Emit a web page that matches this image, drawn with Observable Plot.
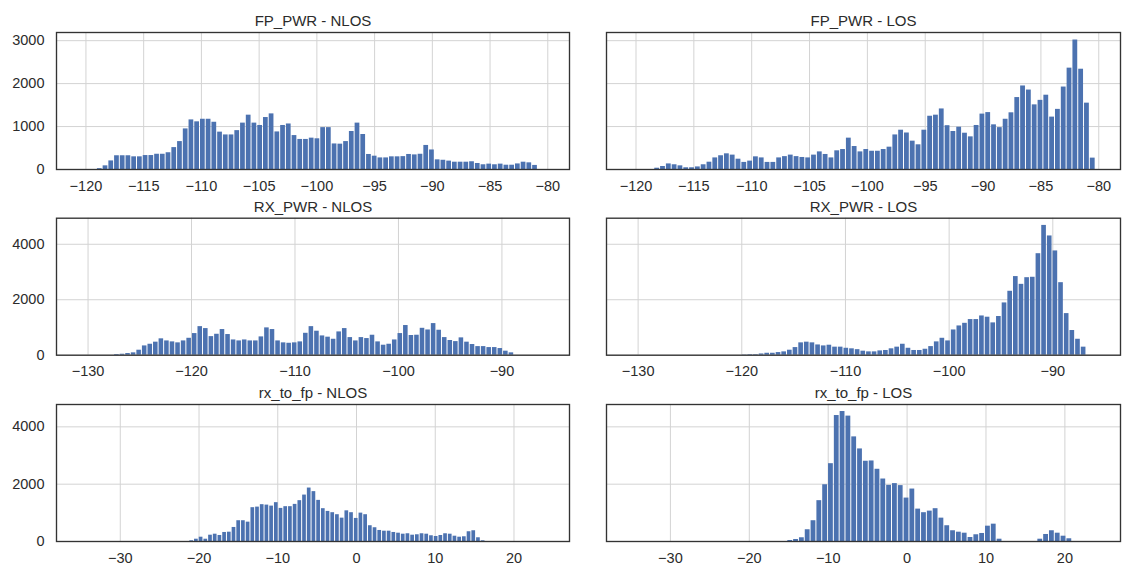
<!DOCTYPE html>
<html><head><meta charset="utf-8">
<script src="https://cdn.jsdelivr.net/npm/d3@7"></script>
<script src="https://cdn.jsdelivr.net/npm/@observablehq/plot@0.6"></script>
<style>
html,body{margin:0;padding:0;background:#fff;}
#chart{position:relative;width:1124px;height:572px;overflow:hidden;background:#fff;}
#chart svg{position:absolute;}
</style></head><body><div id="chart"></div>
<script>
// ---- data: histogram counts (bin start, bin width, counts) ----
const titles = ["FP_PWR - NLOS", "FP_PWR - LOS", "RX_PWR - NLOS", "RX_PWR - LOS", "rx_to_fp - NLOS", "rx_to_fp - LOS"];

const fpPwrNlosStart = -119.05, fpPwrNlosWidth = 0.496;
const fpPwrNlos = [20,85,200,320,320,320,295,295,325,325,355,355,390,510,650,945,1155,1110,1170,1170,1100,870,805,805,905,1080,1265,1080,1025,1210,1295,875,1025,1060,790,700,700,730,715,975,975,595,590,650,885,1080,815,350,310,270,270,295,295,300,350,340,355,560,455,225,215,195,170,170,170,180,140,110,125,110,125,100,100,130,170,155,95];

const fpPwrLosStart = -118.42, fpPwrLosWidth = 0.502;
const fpPwrLos = [30,70,130,110,85,40,40,60,110,170,270,320,365,335,240,165,195,295,270,165,165,270,300,335,300,280,270,335,410,350,270,435,465,730,535,410,465,425,425,465,520,805,915,850,660,575,915,1240,1265,1410,1020,885,985,845,760,1025,1290,1325,1040,975,1170,1320,1675,1945,1850,1505,1610,1730,1220,1400,1920,2360,3015,2335,1545,265];

const rxPwrNlosStart = -127.48, rxPwrNlosWidth = 0.537;
const rxPwrNlos = [25,35,60,85,180,335,395,470,590,515,480,445,515,610,780,1030,960,670,755,925,745,550,515,550,515,515,660,985,925,515,445,430,445,480,790,1030,865,695,650,575,840,960,635,515,635,600,720,480,360,395,550,780,1070,710,720,970,910,1140,900,635,530,490,625,470,385,310,310,275,275,240,145,85];

const rxPwrLosStart = -120.0, rxPwrLosWidth = 0.545;
const rxPwrLos = [10,20,20,45,70,70,95,120,180,275,445,470,445,370,335,360,290,290,250,230,200,145,120,120,155,170,230,290,395,250,170,170,215,310,480,610,515,910,1055,1150,1285,1285,1415,1370,1165,1395,1885,2305,2835,2555,2795,2810,3660,4680,4300,3760,2615,1500,890,575,290];

const rxToFpNlosStart = -21.23, rxToFpNlosWidth = 0.597;
const rxToFpNlos = [25,80,150,80,220,255,210,315,325,490,725,725,675,1180,1200,1285,1270,1235,1355,1155,1215,1215,1295,1425,1620,1865,1740,1435,1145,1050,1005,935,815,1070,1005,805,990,935,550,480,385,360,360,315,290,255,270,220,235,270,255,200,175,210,270,255,185,150,165,340,375,130,25];

const rxToFpLosStart = -15.18, rxToFpLosWidth = 0.737;
const rxToFpLos = [35,70,130,410,725,1425,1980,2715,4395,4535,4375,3650,3230,2800,2810,2520,2180,1960,2020,1950,1515,1830,1130,1005,1060,1145,815,550,375,325,290,140,235,280,535,605,80,0,0,0,0,0,0,80,245,375,290,185,95];

// axis domains and ticks per row (shared across the row)
const row1XDomain = [-122.55, -78.12], row1XTicks = [-120,-115,-110,-105,-100,-95,-90,-85,-80];
const row2XDomain = [-133.05, -83.47], row2XTicks = [-130,-120,-110,-100,-90];
const row3XDomain = [-38.1, 27.05],   row3XTicks = [-30,-20,-10,0,10,20];
const row1YMax = 3190, row1YTicks = [0,1000,2000,3000];
const row2YMax = 4940, row2YTicks = [0,2000,4000];
const row3YMax = 4780, row3YTicks = [0,2000,4000];

// ---- build ----
const series = [
  [fpPwrNlos, fpPwrNlosStart, fpPwrNlosWidth],
  [fpPwrLos, fpPwrLosStart, fpPwrLosWidth],
  [rxPwrNlos, rxPwrNlosStart, rxPwrNlosWidth],
  [rxPwrLos, rxPwrLosStart, rxPwrLosWidth],
  [rxToFpNlos, rxToFpNlosStart, rxToFpNlosWidth],
  [rxToFpLos, rxToFpLosStart, rxToFpLosWidth]
];
const rows = [
  {xDomain: row1XDomain, xTicks: row1XTicks, yMax: row1YMax, yTicks: row1YTicks, top: 0,   height: 200, marginTop: 32},
  {xDomain: row2XDomain, xTicks: row2XTicks, yMax: row2YMax, yTicks: row2YTicks, top: 200, height: 186, marginTop: 17.7},
  {xDomain: row3XDomain, xTicks: row3XTicks, yMax: row3YMax, yTicks: row3YTicks, top: 386, height: 186, marginTop: 18}
];
const cols = [
  {left: 0,   width: 572, marginLeft: 56, marginRight: 3},
  {left: 572, width: 552, marginLeft: 34, marginRight: 4}
];

const fmt = d3.format("d");
const font = "'Liberation Sans', Arial, 'DejaVu Sans', sans-serif";
const textColor = "#2b2b2b";
const chart = document.getElementById("chart");

series.forEach(([counts, start, w], i) => {
  const r = rows[Math.floor(i / 2)], c = cols[i % 2];
  const bins = counts.map((y, k) => ({x1: start + k * w, x2: start + (k + 1) * w, y})).filter(d => d.y > 0);
  const marks = [
    Plot.gridX(r.xTicks, {stroke: "#d3d3d3", strokeOpacity: 1, strokeWidth: 1}),
    Plot.gridY(r.yTicks, {stroke: "#d3d3d3", strokeOpacity: 1, strokeWidth: 1}),
    Plot.rectY(bins, {x1: "x1", x2: "x2", y: "y", fill: "#4c72b0", insetLeft: 0.5, insetRight: 0.5}),
    Plot.frame({stroke: "#333333", strokeWidth: 1.35}),
    Plot.axisX(r.xTicks, {tickSize: 0, tickPadding: 11, tickFormat: fmt, fontSize: 14.5, label: null}),
    Plot.text([titles[i]], {text: d => d, frameAnchor: "top", dy: -17, fontSize: 15, fill: textColor})
  ];
  if (i % 2 === 0) marks.push(Plot.axisY(r.yTicks, {tickSize: 0, tickPadding: 12, tickFormat: fmt, fontSize: 14.5, label: null}));
  const svg = Plot.plot({
    width: c.width,
    height: r.height,
    marginLeft: c.marginLeft,
    marginRight: c.marginRight,
    marginTop: r.marginTop,
    marginBottom: r.height - r.marginTop - 137,
    x: {domain: r.xDomain},
    y: i % 2 === 0 ? {domain: [0, r.yMax]} : {domain: [0, r.yMax], axis: null},
    style: {fontFamily: font, fontSize: "14.5px", color: textColor, background: "transparent", overflow: "visible"},
    marks
  });
  svg.style.left = c.left + "px";
  svg.style.top = r.top + "px";
  chart.appendChild(svg);
});
</script>
</body></html>
